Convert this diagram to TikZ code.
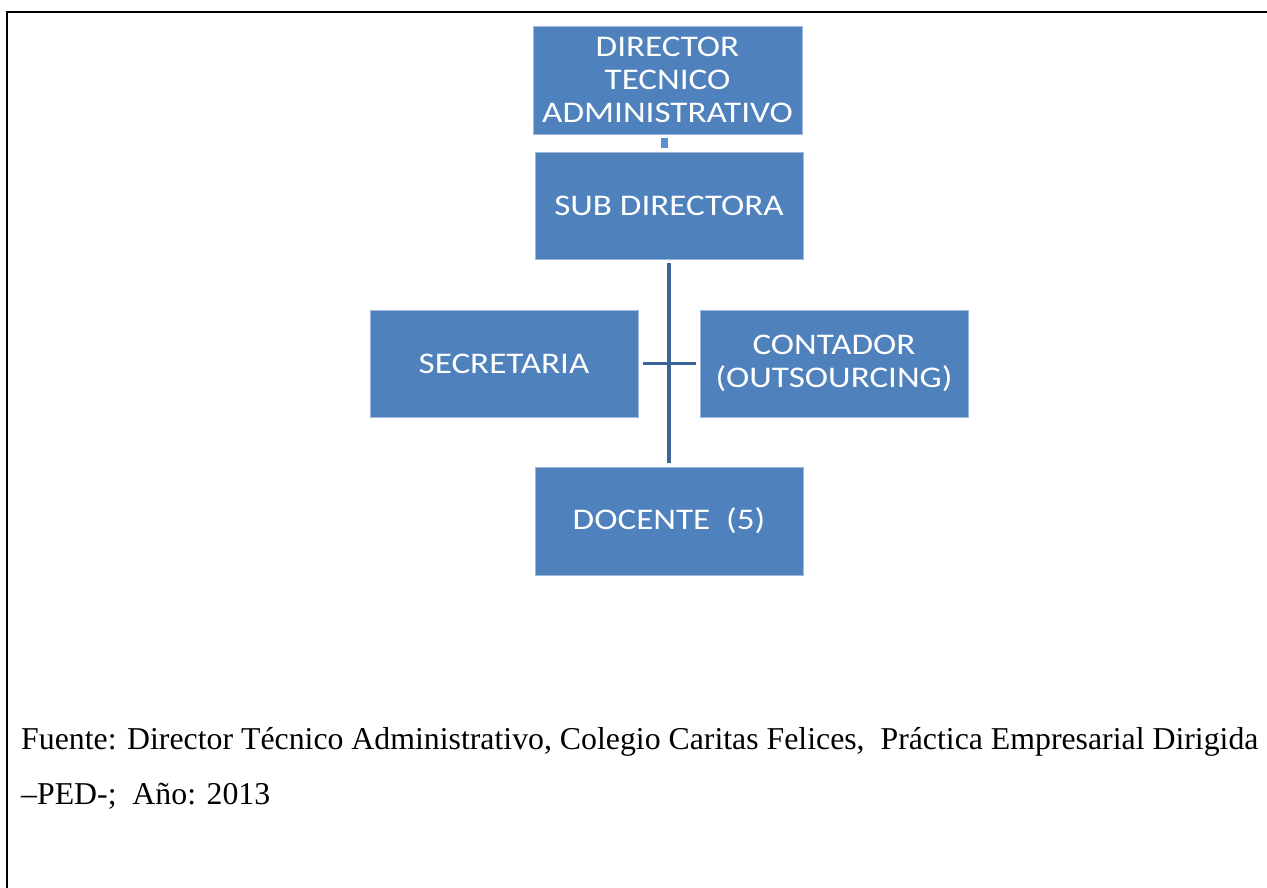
\documentclass[tikz,border=0pt]{standalone}
\usepackage{fontspec}
\setmainfont{Liberation Serif}
\newfontfamily\boxfont[FakeStretch=1.17]{Carlito}
\begin{document}
\begin{tikzpicture}[x=1pt,y=-1pt,
  orgbox/.style={rectangle, fill=boxblue, draw=boxedge, line width=0.8pt,
    text=white, align=center, inner sep=0pt,
    font=\boxfont\fontsize{30}{32.8}\selectfont},
  conn/.style={draw=linkblue, line width=3.6pt},
  stub/.style={draw=stubblue, line width=7.5pt},
  frame/.style={draw=black, line width=2.5pt},
  note/.style={anchor=base west, inner sep=0pt, font=\fontsize{31.8}{55}\selectfont}]
\definecolor{boxblue}{HTML}{4F81BD}
\definecolor{boxedge}{HTML}{9DB9DC}
\definecolor{linkblue}{HTML}{3E6597}
\definecolor{stubblue}{HTML}{5B8FD6}
\useasboundingbox (0,0) rectangle (1267,888);

% open frame: left side and top
\draw[frame] (7,888) -- (7,12) -- (1267,12);

% organisation chart
\node[orgbox, minimum width=269pt, minimum height=108pt] (dir) at (667.5,80)
  {DIRECTOR\\TECNICO\\ADMINISTRATIVO};
\node[orgbox, minimum width=268pt, minimum height=107pt] (sub) at (669,205.5)
  {SUB DIRECTORA};
\node[orgbox, minimum width=268pt, minimum height=107pt] (sec) at (504,363.5)
  {SECRETARIA};
\node[orgbox, minimum width=268pt, minimum height=107pt] (con) at (834,363.5)
  {CONTADOR\\(OUTSOURCING)};
\node[orgbox, minimum width=268pt, minimum height=108pt] (doc) at (669,521)
  {DOCENTE~~(5)};

% connectors
\draw[stub, shorten <=3.5pt, shorten >=3.5pt]
  ([xshift=-3pt]dir.south) -- ([xshift=-3pt]dir.south |- sub.north);
\draw[conn, shorten <=4pt, shorten >=4pt] (sub.south) -- (doc.north);
\draw[conn, shorten <=5pt, shorten >=4pt] (sec.east) -- (con.west);

% source note
\node[note] (src1) at (21,749)
  {Fuente: Director Técnico Administrativo, Colegio Caritas Felices,\ \ Práctica Empresarial Dirigida};
\node[note] (src2) at (21,804)
  {–PED-;\ \ Año: 2013};
\end{tikzpicture}
\end{document}
